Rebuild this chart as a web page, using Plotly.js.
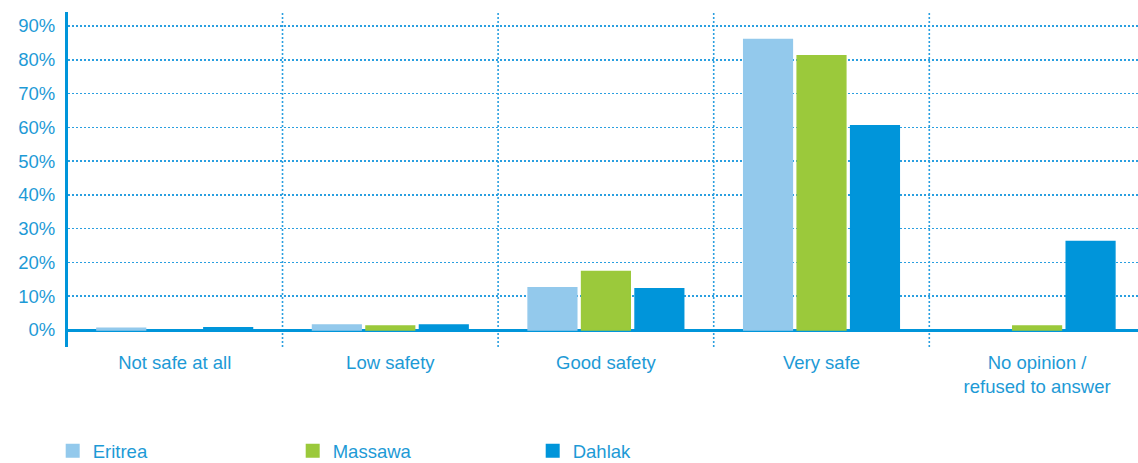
<!DOCTYPE html>
<html>
<head>
<meta charset="utf-8">
<script src="https://cdn.plot.ly/plotly-3.0.1.min.js"></script>
<style>html,body{margin:0;padding:0;background:#fff;}#chart{width:1138px;height:463px;}</style>
</head>
<body>
<div id="chart"></div>
<script>
var categories = ["Not safe at all", "Low safety", "Good safety", "Very safe", "No opinion /<br>refused to answer"];
var eritrea = [0.5, 1.5, 12.5, 86, 0];
var massawa = [0, 1.2, 17.3, 81.2, 1.2];
var dahlak = [0.7, 1.5, 12.2, 60.5, 26.2];
var seriesNames = ["Eritrea", "Massawa", "Dahlak"];
var seriesColors = ["#93c9ec", "#9bc93b", "#0095da"];
var yTickVals = [0, 10, 20, 30, 40, 50, 60, 70, 80, 90];
var yTickText = ["0%", "10%", "20%", "30%", "40%", "50%", "60%", "70%", "80%", "90%"];

var textColor = "#1d9ad6";
var lineColor = "#0095da";
var allSeries = [eritrea, massawa, dahlak];
var traces = allSeries.map(function (vals, i) {
  return {
    type: "bar",
    x: categories.map(function (c, k) { return k; }),
    y: vals,
    name: seriesNames[i],
    marker: {
      color: seriesColors[i],
      line: { width: vals.map(function (v) { return v > 0 ? 1.5 : 0; }), color: seriesColors[i] }
    },
    hoverinfo: "skip"
  };
});

var shapes = [];
for (var k = 0; k < categories.length - 1; k++) {
  shapes.push({
    type: "line", xref: "x", yref: "paper",
    x0: k + 0.5, x1: k + 0.5, y0: 0, y1: 1,
    line: { color: "#2a9fe0", width: 1.6, dash: "2px,2px" },
    layer: "below"
  });
}

var layout = {
  width: 1138, height: 463,
  margin: { l: 68, r: 0, t: 12, b: 116, autoexpand: false },
  paper_bgcolor: "#ffffff", plot_bgcolor: "#ffffff",
  font: { family: "Liberation Sans, Arial, sans-serif", size: 18.5, color: textColor },
  barmode: "group",
  bargap: 0.256,
  bargroupgap: 0.09,
  showlegend: true,
  xaxis: {
    range: [-0.495, 4.468],
    tickvals: categories.map(function (c, k) { return k; }),
    ticktext: categories,
    showgrid: false, zeroline: false, showline: false,
    ticks: "", ticklen: 0, ticklabelstandoff: 2,
    tickfont: { size: 18.5, color: textColor },
    automargin: false,
    fixedrange: true
  },
  yaxis: {
    range: [-5.03, 94.14],
    tickvals: yTickVals, ticktext: yTickText,
    showgrid: true, gridcolor: "#2a9fe0", gridwidth: 1.6, griddash: "2px,2px",
    zeroline: true, zerolinecolor: lineColor, zerolinewidth: 3,
    showline: true, linecolor: lineColor, linewidth: 3,
    ticks: "", ticklabelstandoff: 6,
    tickfont: { size: 18.5, color: textColor },
    automargin: false,
    fixedrange: true
  },
  shapes: shapes,
  legend: {
    orientation: "h",
    x: -0.0143, xanchor: "left",
    y: -0.311, yanchor: "middle",
    entrywidth: 195, entrywidthmode: "pixels",
    font: { size: 18.5, color: textColor },
    itemsizing: "constant",
    traceorder: "normal"
  }
};

Plotly.newPlot("chart", traces, layout, { displayModeBar: false, staticPlot: true });
</script>
</body>
</html>
